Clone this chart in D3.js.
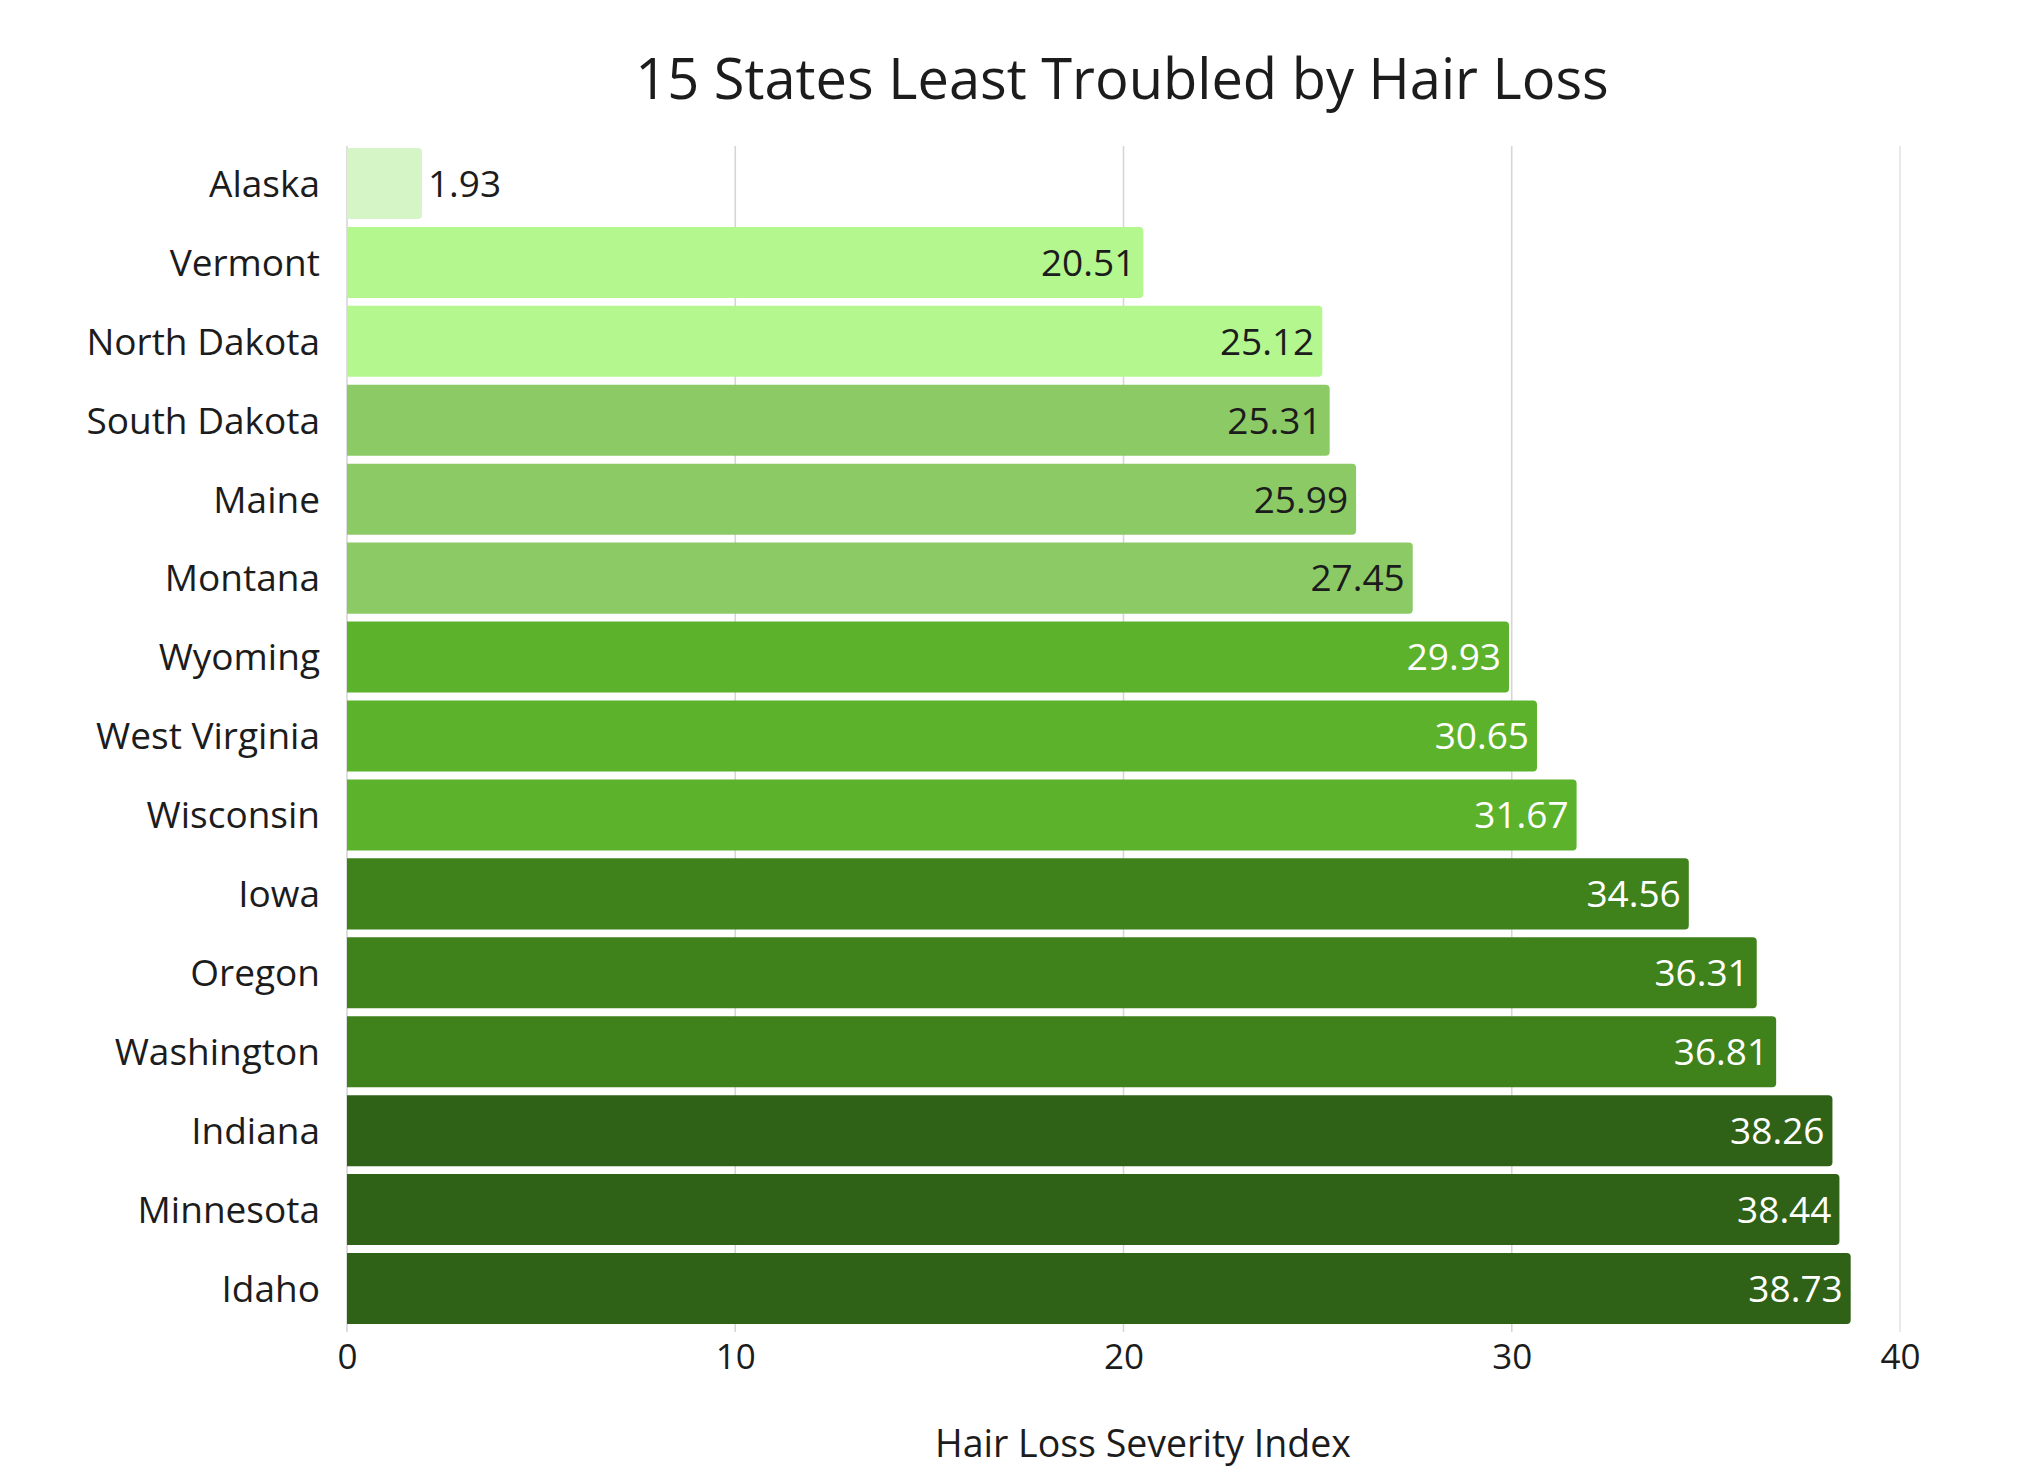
<!DOCTYPE html>
<html>
<head>
<meta charset="utf-8">
<script src="https://cdn.jsdelivr.net/npm/d3@7"></script>
<style>
  html, body { margin: 0; padding: 0; background: #fff; }
  svg { display: block; font-family: "Open Sans", "Noto Sans", sans-serif; }
</style>
</head>
<body>
<svg id="vis"></svg>
<script>
const width = 2022;
const height = 1474;

const states = ['Alaska', 'Vermont', 'North Dakota', 'South Dakota', 'Maine', 'Montana', 'Wyoming',
  'West Virginia', 'Wisconsin', 'Iowa', 'Oregon', 'Washington', 'Indiana', 'Minnesota', 'Idaho'];
const severity = [1.93, 20.51, 25.12, 25.31, 25.99, 27.45, 29.93, 30.65, 31.67, 34.56, 36.31, 36.81, 38.26, 38.44, 38.73];
// colour group of each bar (lightest to darkest)
const shade = [0, 1, 1, 2, 2, 2, 3, 3, 3, 4, 4, 4, 5, 5, 5];
const shadeColors = ['#d5f5c6', '#b4f78f', '#8cca66', '#5cb22a', '#3f811b', '#2f6116'];
const xTicks = [0, 10, 20, 30, 40];

const data = states.map((s, i) => ({state: s, value: severity[i], shade: shade[i]}));

const svg = d3.select('#vis').attr('width', width).attr('height', height);

const x = d3.scaleLinear().domain([0, 40]).range([347, 1900]);
const y = d3.scaleBand().domain(states).range([144, 1328]).paddingInner(0.1).paddingOuter(0.05);

// grid
svg.append('g').selectAll('line')
  .data(xTicks)
  .join('line')
  .attr('x1', d => x(d)).attr('x2', d => x(d))
  .attr('y1', 146).attr('y2', 1332)
  .attr('stroke', d => d === 40 ? '#e4e4e4' : '#d6d6d6')
  .attr('stroke-width', 1.6);

// bars, square at the baseline, lightly rounded at the end
const r = 4;
svg.append('g').selectAll('path')
  .data(data)
  .join('path')
  .attr('d', d => {
    const x0 = x(0), x1 = x(d.value), y0 = y(d.state), h = y.bandwidth();
    return `M${x0},${y0}H${x1 - r}Q${x1},${y0} ${x1},${y0 + r}V${y0 + h - r}Q${x1},${y0 + h} ${x1 - r},${y0 + h}H${x0}Z`;
  })
  .attr('fill', d => shadeColors[d.shade]);

// value labels
svg.append('g').selectAll('text')
  .data(data)
  .join('text')
  .attr('x', d => d.value < 5 ? x(d.value) + 6 : x(d.value) - 8)
  .attr('y', d => y(d.state) + y.bandwidth() / 2)
  .attr('dy', '0.36em')
  .attr('text-anchor', d => d.value < 5 ? 'start' : 'end')
  .attr('fill', d => d.shade >= 3 ? '#ffffff' : '#1c1c1c')
  .style('font-size', '37px')
  .text(d => d.value.toFixed(2));

// state labels
svg.append('g').selectAll('text')
  .data(states)
  .join('text')
  .attr('x', 320)
  .attr('y', d => y(d) + y.bandwidth() / 2)
  .attr('dy', '0.36em')
  .attr('text-anchor', 'end')
  .attr('fill', '#1c1c1c')
  .style('font-size', '37px')
  .text(d => d);

// x axis tick labels
const xAxis = svg.append('g')
  .attr('transform', 'translate(0,1332)')
  .call(d3.axisBottom(x).tickValues(xTicks).tickSize(0).tickPadding(12));
xAxis.select('.domain').remove();
xAxis.selectAll('text')
  .attr('fill', '#1c1c1c')
  .style('font-family', '"Open Sans", "Noto Sans", sans-serif')
  .style('font-size', '35px');

// titles
svg.append('text')
  .attr('x', 1122).attr('y', 99)
  .attr('text-anchor', 'middle')
  .attr('fill', '#1c1c1c')
  .style('font-size', '56px')
  .text('15 States Least Troubled by Hair Loss');

svg.append('text')
  .attr('x', 1143).attr('y', 1457)
  .attr('text-anchor', 'middle')
  .attr('fill', '#1c1c1c')
  .style('font-size', '37.5px')
  .text('Hair Loss Severity Index');
</script>
</body>
</html>
